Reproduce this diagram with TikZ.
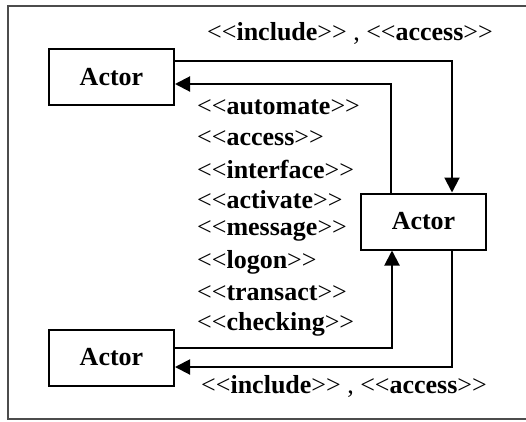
\documentclass[tikz,border=0pt]{standalone}
\usepackage{fontspec}
\setmainfont{Liberation Serif}
\usetikzlibrary{arrows.meta}
% stereotype label: thin angle brackets round a bold word
\newcommand{\ster}[1]{<\kern0pt<\textbf{#1}>\kern0pt>}
\tikzset{
  actorbox/.style={draw, line width=2pt, minimum width=125pt, minimum height=56pt,
    inner sep=0pt, font=\fontsize{26}{30}\selectfont\bfseries},
  link/.style={line width=2pt},
  linkarrow/.style={link, -{Triangle[length=15pt,width=15pt]}},
  ster/.style={inner sep=0pt, font=\fontsize{26}{30}\selectfont},
}
\begin{document}
\begin{tikzpicture}[x=1pt, y=-1pt]
  \useasboundingbox (0,0) rectangle (526,421);
  % surrounding frame (open on the right)
  \draw[line width=2pt, black!70] (526,6) -- (8,6) -- (8,419) -- (526,419);

  % actors
  \node[actorbox] (a1) at (111.5,77) {Actor};
  \node[actorbox] (a2) at (423.5,221.5) {Actor};
  \node[actorbox] (a3) at (111.5,357.5) {Actor};

  % connectors
  \draw[linkarrow] (a1.east |- 0,61) -| (a2.north -| 452,0);
  \draw[linkarrow] (a2.north -| 391,0) |- (a1.east |- 0,84);
  \draw[linkarrow] (a3.east |- 0,348) -| (a2.south -| 392,0);
  \draw[linkarrow] (a2.south -| 452,0) |- (a3.east |- 0,367);

  % labels
  \node[ster] (ltop) at (350,33) {\ster{include} , \ster{access}};
  \node[ster] (lbot) at (344,386) {\ster{include} , \ster{access}};
  \node[ster, anchor=west] (s1) at (197,107) {\ster{automate}};
  \node[ster, anchor=west] (s2) at (197,138) {\ster{access}};
  \node[ster, anchor=west] (s3) at (197,169) {\ster{interface}};
  \node[ster, anchor=west] (s4) at (197,200) {\ster{activate}};
  \node[ster, anchor=west] (s5) at (197,231) {\ster{message}};
  \node[ster, anchor=west] (s6) at (197,262) {\ster{logon}};
  \node[ster, anchor=west] (s7) at (197,293) {\ster{transact}};
  \node[ster, anchor=west] (s8) at (197,324) {\ster{checking}};
\end{tikzpicture}
\end{document}
